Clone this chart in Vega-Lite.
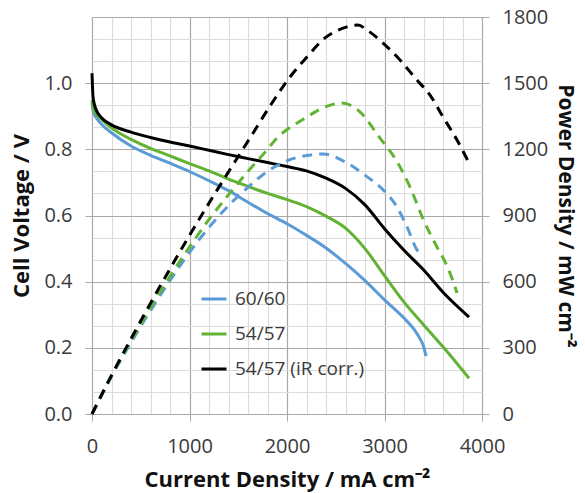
{
  "$schema": "https://vega.github.io/schema/vega-lite/v6.json",
  "width": 390,
  "height": 397,
  "autosize": {"type": "none"},
  "padding": {"left": 92, "top": 17, "right": 103, "bottom": 79},
  "background": "white",
  "config": {
    "view": {"stroke": null},
    "font": "Open Sans",
    "axis": {"labelFont": "Open Sans", "titleFont": "Open Sans", "labelColor": "#3a3a3a", "titleColor": "#111111", "labelFlush": false, "labelOverlap": false, "domain": false}
  },
  "datasets": {
    "voltage": [
      {"I": 0, "V": 0.94, "series": "60/60"},
      {"I": 10, "V": 0.92, "series": "60/60"},
      {"I": 25, "V": 0.905, "series": "60/60"},
      {"I": 50, "V": 0.893, "series": "60/60"},
      {"I": 100, "V": 0.875, "series": "60/60"},
      {"I": 200, "V": 0.85, "series": "60/60"},
      {"I": 400, "V": 0.81, "series": "60/60"},
      {"I": 600, "V": 0.782, "series": "60/60"},
      {"I": 800, "V": 0.758, "series": "60/60"},
      {"I": 1000, "V": 0.733, "series": "60/60"},
      {"I": 1200, "V": 0.705, "series": "60/60"},
      {"I": 1400, "V": 0.675, "series": "60/60"},
      {"I": 1600, "V": 0.64, "series": "60/60"},
      {"I": 1800, "V": 0.606, "series": "60/60"},
      {"I": 2000, "V": 0.575, "series": "60/60"},
      {"I": 2200, "V": 0.54, "series": "60/60"},
      {"I": 2400, "V": 0.502, "series": "60/60"},
      {"I": 2600, "V": 0.455, "series": "60/60"},
      {"I": 2800, "V": 0.403, "series": "60/60"},
      {"I": 3000, "V": 0.345, "series": "60/60"},
      {"I": 3200, "V": 0.29, "series": "60/60"},
      {"I": 3300, "V": 0.257, "series": "60/60"},
      {"I": 3364, "V": 0.228, "series": "60/60"},
      {"I": 3400, "V": 0.205, "series": "60/60"},
      {"I": 3426, "V": 0.175, "series": "60/60"},
      {"I": 0, "V": 0.95, "series": "54/57"},
      {"I": 10, "V": 0.93, "series": "54/57"},
      {"I": 25, "V": 0.915, "series": "54/57"},
      {"I": 50, "V": 0.905, "series": "54/57"},
      {"I": 100, "V": 0.89, "series": "54/57"},
      {"I": 200, "V": 0.865, "series": "54/57"},
      {"I": 400, "V": 0.83, "series": "54/57"},
      {"I": 600, "V": 0.803, "series": "54/57"},
      {"I": 800, "V": 0.78, "series": "54/57"},
      {"I": 1000, "V": 0.757, "series": "54/57"},
      {"I": 1200, "V": 0.735, "series": "54/57"},
      {"I": 1400, "V": 0.71, "series": "54/57"},
      {"I": 1600, "V": 0.688, "series": "54/57"},
      {"I": 1800, "V": 0.667, "series": "54/57"},
      {"I": 2000, "V": 0.648, "series": "54/57"},
      {"I": 2200, "V": 0.627, "series": "54/57"},
      {"I": 2400, "V": 0.598, "series": "54/57"},
      {"I": 2600, "V": 0.562, "series": "54/57"},
      {"I": 2800, "V": 0.5, "series": "54/57"},
      {"I": 3000, "V": 0.418, "series": "54/57"},
      {"I": 3200, "V": 0.338, "series": "54/57"},
      {"I": 3400, "V": 0.27, "series": "54/57"},
      {"I": 3600, "V": 0.203, "series": "54/57"},
      {"I": 3867, "V": 0.108, "series": "54/57"},
      {"I": 0, "V": 1.03, "series": "54/57 (iR corr.)"},
      {"I": 5, "V": 0.99, "series": "54/57 (iR corr.)"},
      {"I": 10, "V": 0.96, "series": "54/57 (iR corr.)"},
      {"I": 25, "V": 0.935, "series": "54/57 (iR corr.)"},
      {"I": 50, "V": 0.915, "series": "54/57 (iR corr.)"},
      {"I": 100, "V": 0.895, "series": "54/57 (iR corr.)"},
      {"I": 200, "V": 0.874, "series": "54/57 (iR corr.)"},
      {"I": 400, "V": 0.852, "series": "54/57 (iR corr.)"},
      {"I": 600, "V": 0.836, "series": "54/57 (iR corr.)"},
      {"I": 800, "V": 0.822, "series": "54/57 (iR corr.)"},
      {"I": 1000, "V": 0.81, "series": "54/57 (iR corr.)"},
      {"I": 1200, "V": 0.797, "series": "54/57 (iR corr.)"},
      {"I": 1400, "V": 0.784, "series": "54/57 (iR corr.)"},
      {"I": 1600, "V": 0.772, "series": "54/57 (iR corr.)"},
      {"I": 1800, "V": 0.76, "series": "54/57 (iR corr.)"},
      {"I": 2000, "V": 0.748, "series": "54/57 (iR corr.)"},
      {"I": 2200, "V": 0.735, "series": "54/57 (iR corr.)"},
      {"I": 2400, "V": 0.713, "series": "54/57 (iR corr.)"},
      {"I": 2600, "V": 0.682, "series": "54/57 (iR corr.)"},
      {"I": 2800, "V": 0.632, "series": "54/57 (iR corr.)"},
      {"I": 3000, "V": 0.56, "series": "54/57 (iR corr.)"},
      {"I": 3200, "V": 0.495, "series": "54/57 (iR corr.)"},
      {"I": 3400, "V": 0.436, "series": "54/57 (iR corr.)"},
      {"I": 3600, "V": 0.368, "series": "54/57 (iR corr.)"},
      {"I": 3867, "V": 0.293, "series": "54/57 (iR corr.)"}
    ],
    "power": [
      {"I": 0, "P": 0, "series": "60/60"},
      {"I": 200, "P": 170, "series": "60/60"},
      {"I": 400, "P": 324, "series": "60/60"},
      {"I": 600, "P": 469, "series": "60/60"},
      {"I": 800, "P": 606, "series": "60/60"},
      {"I": 1000, "P": 733, "series": "60/60"},
      {"I": 1200, "P": 846, "series": "60/60"},
      {"I": 1400, "P": 945, "series": "60/60"},
      {"I": 1600, "P": 1028, "series": "60/60"},
      {"I": 1800, "P": 1100, "series": "60/60"},
      {"I": 2000, "P": 1148, "series": "60/60"},
      {"I": 2200, "P": 1172, "series": "60/60"},
      {"I": 2370, "P": 1179, "series": "60/60"},
      {"I": 2600, "P": 1142, "series": "60/60"},
      {"I": 2800, "P": 1083, "series": "60/60"},
      {"I": 3000, "P": 1010, "series": "60/60"},
      {"I": 3128, "P": 939, "series": "60/60"},
      {"I": 3231, "P": 848, "series": "60/60"},
      {"I": 3333, "P": 744, "series": "60/60"},
      {"I": 3374, "P": 721, "series": "60/60"},
      {"I": 0, "P": 0, "series": "54/57"},
      {"I": 200, "P": 173, "series": "54/57"},
      {"I": 400, "P": 332, "series": "54/57"},
      {"I": 600, "P": 482, "series": "54/57"},
      {"I": 800, "P": 624, "series": "54/57"},
      {"I": 1000, "P": 757, "series": "54/57"},
      {"I": 1200, "P": 882, "series": "54/57"},
      {"I": 1400, "P": 994, "series": "54/57"},
      {"I": 1600, "P": 1100, "series": "54/57"},
      {"I": 1800, "P": 1200, "series": "54/57"},
      {"I": 1896, "P": 1251, "series": "54/57"},
      {"I": 2000, "P": 1290, "series": "54/57"},
      {"I": 2154, "P": 1333, "series": "54/57"},
      {"I": 2390, "P": 1392, "series": "54/57"},
      {"I": 2564, "P": 1410, "series": "54/57"},
      {"I": 2728, "P": 1378, "series": "54/57"},
      {"I": 2954, "P": 1251, "series": "54/57"},
      {"I": 3128, "P": 1145, "series": "54/57"},
      {"I": 3262, "P": 1029, "series": "54/57"},
      {"I": 3395, "P": 885, "series": "54/57"},
      {"I": 3538, "P": 757, "series": "54/57"},
      {"I": 3651, "P": 662, "series": "54/57"},
      {"I": 3744, "P": 549, "series": "54/57"},
      {"I": 0, "P": 0, "series": "54/57 (iR corr.)"},
      {"I": 200, "P": 175, "series": "54/57 (iR corr.)"},
      {"I": 400, "P": 341, "series": "54/57 (iR corr.)"},
      {"I": 600, "P": 502, "series": "54/57 (iR corr.)"},
      {"I": 800, "P": 658, "series": "54/57 (iR corr.)"},
      {"I": 1000, "P": 810, "series": "54/57 (iR corr.)"},
      {"I": 1200, "P": 956, "series": "54/57 (iR corr.)"},
      {"I": 1400, "P": 1098, "series": "54/57 (iR corr.)"},
      {"I": 1600, "P": 1237, "series": "54/57 (iR corr.)"},
      {"I": 1846, "P": 1410, "series": "54/57 (iR corr.)"},
      {"I": 2031, "P": 1528, "series": "54/57 (iR corr.)"},
      {"I": 2205, "P": 1619, "series": "54/57 (iR corr.)"},
      {"I": 2390, "P": 1705, "series": "54/57 (iR corr.)"},
      {"I": 2615, "P": 1755, "series": "54/57 (iR corr.)"},
      {"I": 2728, "P": 1764, "series": "54/57 (iR corr.)"},
      {"I": 2820, "P": 1741, "series": "54/57 (iR corr.)"},
      {"I": 2985, "P": 1682, "series": "54/57 (iR corr.)"},
      {"I": 3159, "P": 1605, "series": "54/57 (iR corr.)"},
      {"I": 3333, "P": 1514, "series": "54/57 (iR corr.)"},
      {"I": 3467, "P": 1446, "series": "54/57 (iR corr.)"},
      {"I": 3600, "P": 1347, "series": "54/57 (iR corr.)"},
      {"I": 3744, "P": 1242, "series": "54/57 (iR corr.)"},
      {"I": 3867, "P": 1138, "series": "54/57 (iR corr.)"}
    ]
  },
  "layer": [
    {
      "data": {"name": "voltage"},
      "mark": {"type": "line", "strokeWidth": 3, "interpolate": "monotone"},
      "encoding": {
        "x": {
          "field": "I", "type": "quantitative",
          "scale": {"domain": [0, 4000], "nice": false, "zero": false},
          "axis": {
            "values": [0, 200, 400, 600, 800, 1000, 1200, 1400, 1600, 1800, 2000, 2200, 2400, 2600, 2800, 3000, 3200, 3400, 3600, 3800, 4000],
            "tickCount": 200,
            "labelExpr": "datum.value % 1000 === 0 ? datum.label : ''",
            "format": "d",
            "labelOverlap": false,
            "grid": true,
            "gridColor": {"condition": {"test": "datum.value % 1000 === 0", "value": "#a8a8a8"}, "value": "#dcdcdc"},
            "gridWidth": 1.2,
            "ticks": true,
            "tickSize": 7,
            "tickColor": "#a8a8a8",
            "tickOpacity": {"condition": {"test": "datum.value % 1000 === 0", "value": 1}, "value": 0},
            "labelFontSize": 20,
            "labelPadding": 15,
            "title": "Current Density / mA cm⁻²",
            "titleFontSize": 22,
            "titleFontWeight": "bold",
            "titlePadding": 13
          }
        },
        "y": {
          "field": "V", "type": "quantitative",
          "scale": {"domain": [0, 1.2], "nice": false},
          "axis": {
            "orient": "left",
            "values": [0, 0.2, 0.4, 0.6, 0.8, 1.0],
            "tickCount": 200,
            "format": ".1f",
            "labelOverlap": false,
            "grid": false,
            "tickSize": 7,
            "tickColor": "#a8a8a8",
            "labelFontSize": 20,
            "labelPadding": 13,
            "title": "Cell Voltage / V",
            "titleFontSize": 22,
            "titleFontWeight": "bold",
            "titlePadding": 10
          }
        },
        "color": {
          "field": "series", "type": "nominal",
          "scale": {"domain": ["60/60", "54/57", "54/57 (iR corr.)"], "range": ["#5b9bd5", "#62b234", "#000000"]},
          "legend": {
            "title": null,
            "orient": "none",
            "legendX": 108,
            "legendY": 268,
            "symbolType": "stroke",
            "symbolSize": 625,
            "symbolStrokeWidth": 3,
            "symbolDash": [1, 0],
            "labelFontSize": 19,
            "labelFont": "Open Sans",
            "labelColor": "#3a3a3a",
            "labelOffset": 7,
            "rowPadding": 11,
            "padding": 0
          }
        }
      }
    },
    {
      "data": {"name": "power"},
      "mark": {"type": "line", "strokeWidth": 3, "strokeDash": [10, 7], "interpolate": "monotone"},
      "encoding": {
        "x": {"field": "I", "type": "quantitative"},
        "y": {
          "field": "P", "type": "quantitative",
          "scale": {"domain": [0, 1800], "nice": false},
          "axis": {
            "orient": "right",
            "values": [0, 100, 200, 300, 400, 500, 600, 700, 800, 900, 1000, 1100, 1200, 1300, 1400, 1500, 1600, 1700, 1800],
            "tickCount": 200,
            "labelExpr": "datum.value % 300 === 0 ? datum.label : ''",
            "format": "d",
            "labelOverlap": false,
            "grid": true,
            "gridColor": {"condition": {"test": "datum.value % 300 === 0", "value": "#a8a8a8"}, "value": "#dcdcdc"},
            "gridWidth": 1.2,
            "tickSize": 7,
            "tickColor": "#a8a8a8",
            "tickOpacity": {"condition": {"test": "datum.value % 300 === 0", "value": 1}, "value": 0},
            "labelFontSize": 20,
            "labelPadding": 13,
            "title": "Power Density / mW cm⁻²",
            "titleFontSize": 21,
            "titleFontWeight": "bold",
            "titlePadding": 7
          }
        },
        "color": {"field": "series", "type": "nominal"}
      }
    }
  ],
  "resolve": {"scale": {"y": "independent"}}
}
